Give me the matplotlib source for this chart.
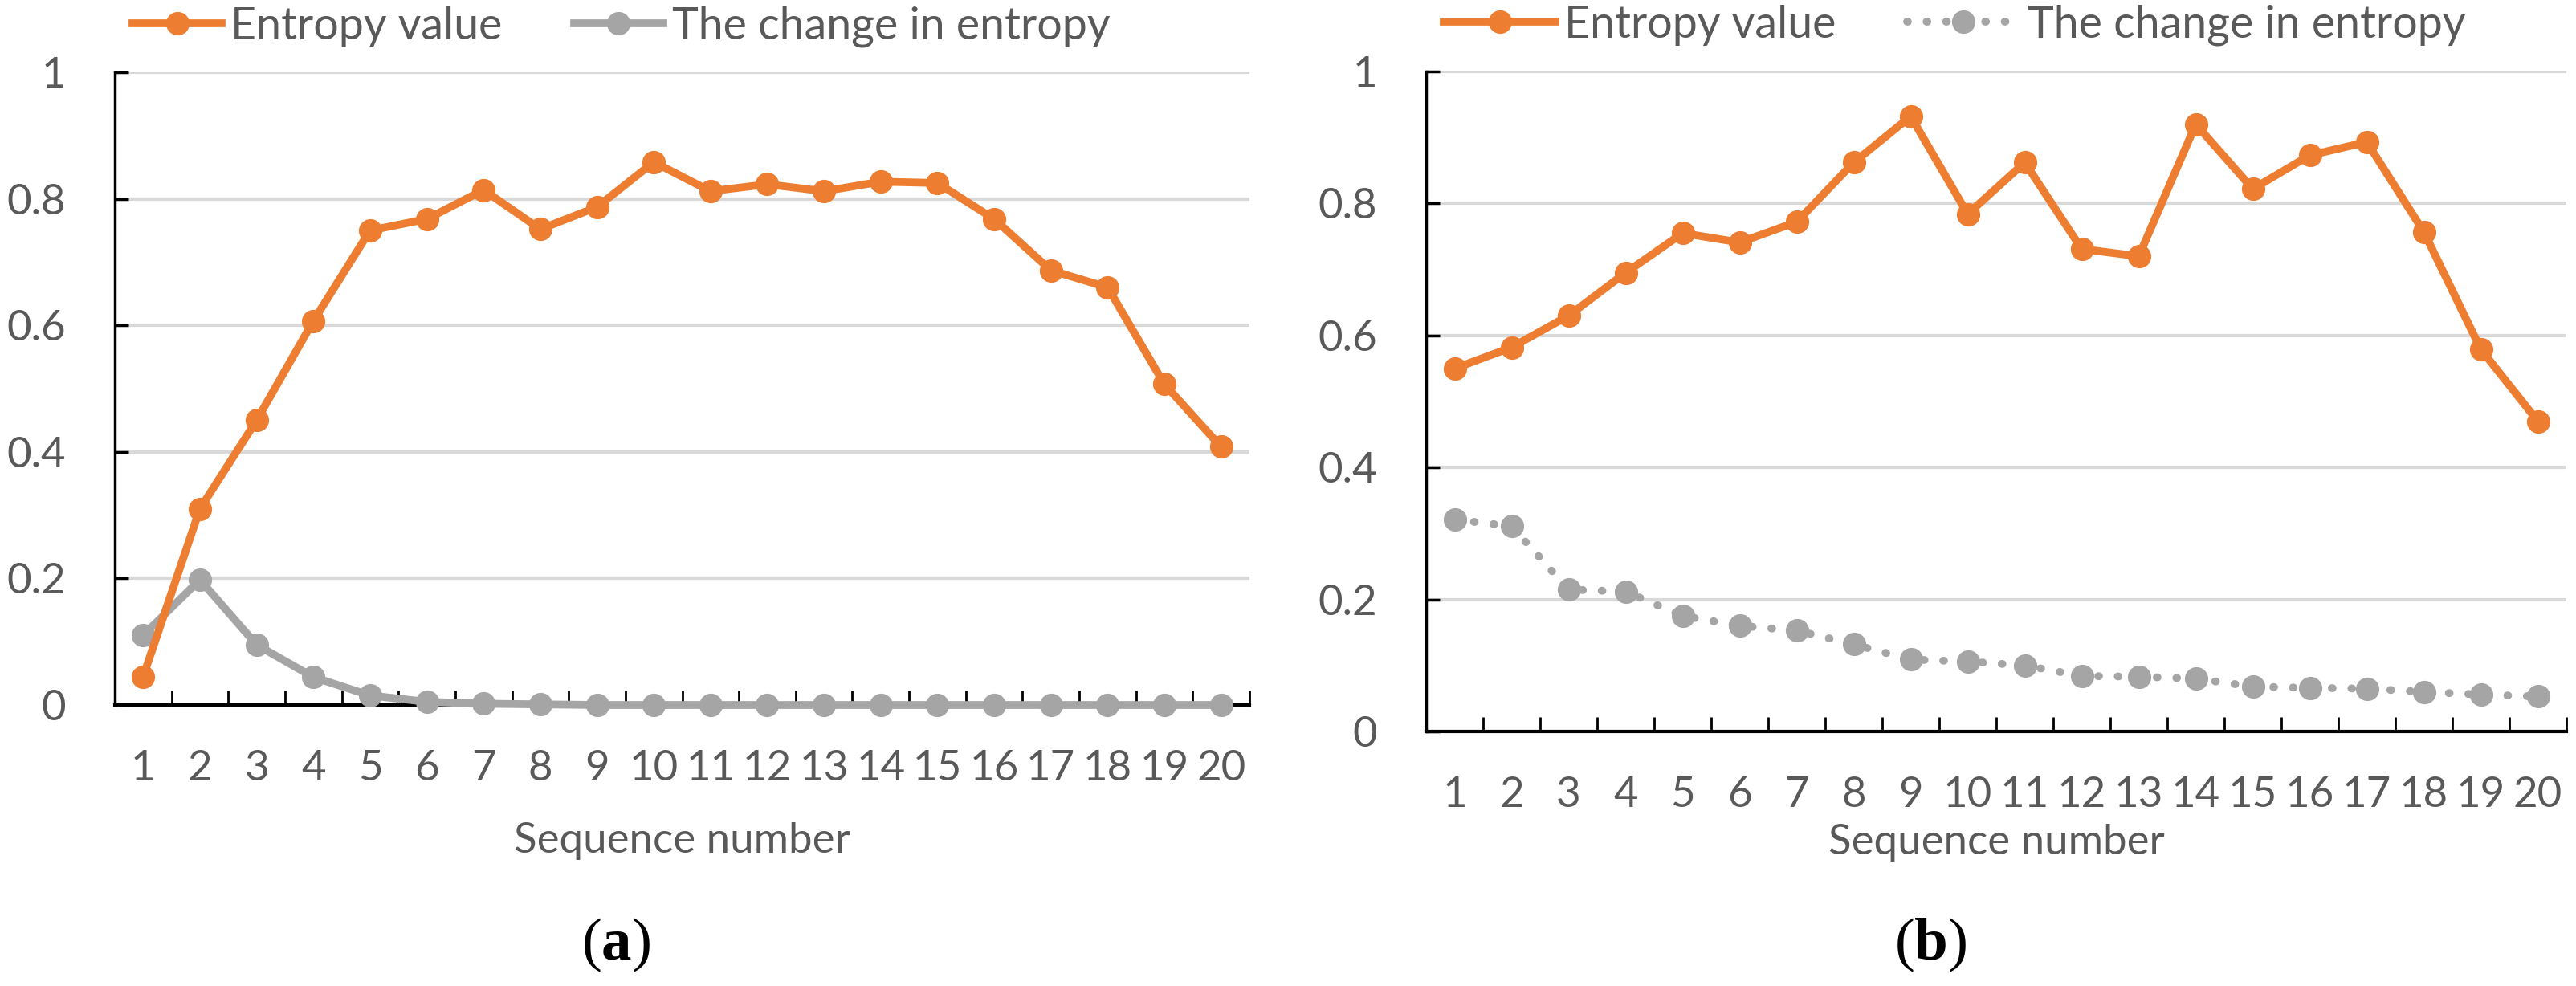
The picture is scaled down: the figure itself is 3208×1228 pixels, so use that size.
import matplotlib
matplotlib.use('Agg')
import matplotlib.pyplot as plt
import numpy as np

plt.rcParams.update({'font.family': ['Lato', 'DejaVu Sans'],
                     'mathtext.fontset': 'custom',
                     'mathtext.rm': 'Liberation Serif',
                     'mathtext.bf': 'Liberation Serif:bold'})

seq = np.arange(1, 21)
ent_a = [0.045, 0.31, 0.45, 0.607, 0.75, 0.768, 0.814, 0.752, 0.787, 0.858,
         0.812, 0.823, 0.812, 0.827, 0.825, 0.768, 0.687, 0.66, 0.507, 0.408]
chg_a = [0.11, 0.198, 0.095, 0.044, 0.015, 0.005, 0.002, 0.001, 0.0, 0.0,
         0.0, 0.0, 0.0, 0.0, 0.0, 0.0, 0.0, 0.0, 0.0, 0.0]
ent_b = [0.55, 0.582, 0.63, 0.695, 0.755, 0.741, 0.772, 0.862, 0.932, 0.784,
         0.862, 0.731, 0.72, 0.92, 0.822, 0.873, 0.893, 0.757, 0.579, 0.47]
chg_b = [0.321, 0.311, 0.215, 0.212, 0.175, 0.16, 0.153, 0.132, 0.109, 0.106,
         0.1, 0.084, 0.083, 0.08, 0.068, 0.066, 0.065, 0.06, 0.056, 0.053]
yticks = [0, 0.2, 0.4, 0.6, 0.8, 1]
ytick_labels = ['0', '0.2', '0.4', '0.6', '0.8', '1']

ORANGE = '#ED7D31'
GREY = '#A5A5A5'
TXT = '#595959'
FS = 38

fig = plt.figure(figsize=(32.08, 12.28), dpi=100)
ax_a = fig.add_axes([143 / 3208, 1 - 878 / 1228, 1413 / 3208, 788 / 1228])
ax_b = fig.add_axes([1776 / 3208, 1 - 911 / 1228, 1420 / 3208, 822 / 1228])


def style(ax, ent, chg, dotted, xlab_y, hlen):
    ax.plot(seq, chg, color=GREY, lw=7, marker='o', ms=20,
            ls=(0, (0.1, 2.4)) if dotted else '-',
            dash_capstyle='round', clip_on=False, zorder=3,
            label='The change in entropy')
    ax.plot(seq, ent, color=ORANGE, lw=7, marker='o', ms=20,
            clip_on=False, zorder=4, label='Entropy value')
    ax.set_xlim(0.5, 20.5)
    ax.set_ylim(0, 1)
    ax.set_yticks(yticks)
    ax.set_yticklabels(ytick_labels)
    ax.set_xticks(seq)
    ax.set_xticks(np.arange(0.5, 21, 1), minor=True)
    ax.tick_params(axis='x', which='major', length=0, pad=40,
                   labelsize=FS, labelcolor=TXT)
    ax.tick_params(axis='x', which='minor', direction='in', length=13,
                   width=2, color='black')
    ax.tick_params(axis='y', direction='in', length=12, width=2.5,
                   pad=44, labelsize=FS, labelcolor=TXT)
    for s in ('top', 'right'):
        ax.spines[s].set_visible(False)
    ax.spines['left'].set_linewidth(2.5)
    ax.spines['bottom'].set_linewidth(3)
    ax.grid(axis='y', color='#D9D9D9', lw=3)
    ax.set_axisbelow(True)
    ax.set_xlabel('Sequence number', fontsize=FS, color=TXT, va='center')
    ax.xaxis.set_label_coords(0.5, xlab_y)
    h, l = ax.get_legend_handles_labels()
    ax.legend(h[::-1], l[::-1], ncol=2, frameon=False, fontsize=FS + 2,
              labelcolor=TXT, loc='center left', handlelength=hlen,
              handletextpad=0.2, columnspacing=1.6,
              bbox_to_anchor=(0.0, 1.072 if not dotted else 1.07),
              borderaxespad=0)


style(ax_a, ent_a, chg_a, False, -0.2145, 2.0)
style(ax_b, ent_b, chg_b, True, -0.169, 2.5)

fig.text(767 / 3208, 1 - 1177 / 1228, r'($\mathbf{a}$)', fontsize=54,
         ha='center', va='center', family='Liberation Serif')
fig.text(2404 / 3208, 1 - 1177 / 1228, r'($\mathbf{b}$)', fontsize=54,
         ha='center', va='center', family='Liberation Serif')

fig.savefig('out.png', dpi=100)
